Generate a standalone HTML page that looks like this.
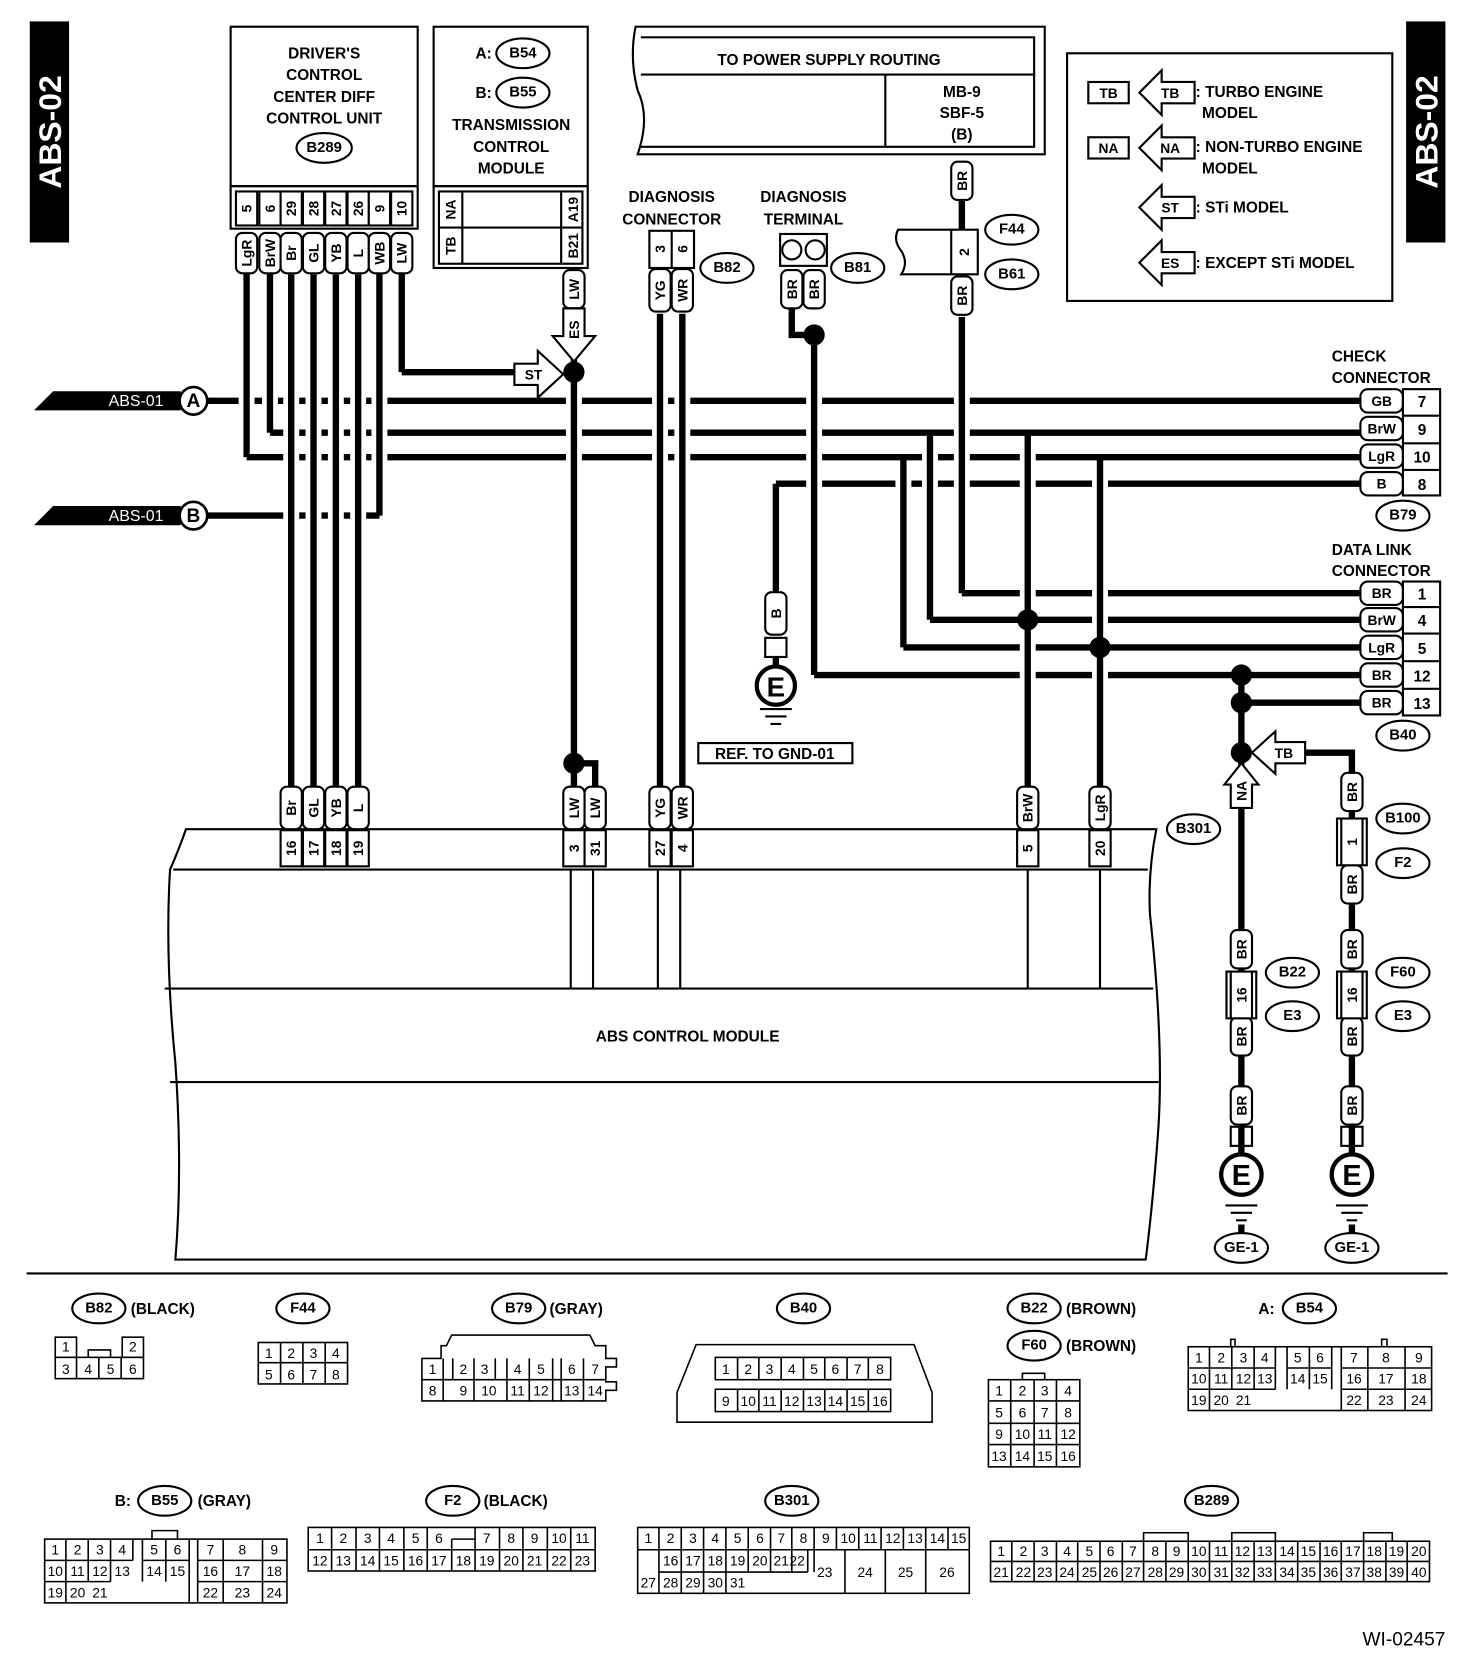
<!DOCTYPE html>
<html><head><meta charset="utf-8"><style>
html,body{margin:0;padding:0;background:#fff}
svg{display:block}
text{font-family:"Liberation Sans",sans-serif;font-weight:bold;fill:#000}
.t rect{fill:#fff;stroke:#000;stroke-width:2}
.t text{font-size:13px;text-anchor:middle;dominant-baseline:central}
.w{fill:none;stroke:#000;stroke-width:6}
.wb{fill:none;stroke:#fff;stroke-width:15}
.b{fill:none;stroke:#000;stroke-width:2}
.lbl{font-size:14.5px;text-anchor:middle}
.g text{font-size:13px;font-weight:normal;text-anchor:middle;dominant-baseline:central}
.g rect{fill:#fff;stroke:#000;stroke-width:1.5}
.ov ellipse{fill:#fff;stroke:#000;stroke-width:2}
.ov text{font-size:14px;text-anchor:middle;dominant-baseline:central}
</style></head><body>
<svg width="1472" height="1670" viewBox="0 0 1385 1571" xmlns="http://www.w3.org/2000/svg">
<!-- side bars -->
<rect x="28" y="20" width="37" height="208" fill="#000"/>
<text transform="translate(47,124) rotate(-90)" text-anchor="middle" dominant-baseline="central" style="fill:#fff;font-size:30px">ABS-02</text>
<rect x="1323" y="20" width="37" height="208" fill="#000"/>
<text transform="translate(1342,124) rotate(-90)" text-anchor="middle" dominant-baseline="central" style="fill:#fff;font-size:30px">ABS-02</text>

<!-- horizontal wires -->
<path class="w" d="M195 377H1280"/>
<path class="w" d="M254 407H1280"/>
<path class="w" d="M232 430H1280"/>
<path class="w" d="M730 455H1280"/>
<path class="w" d="M195 485H357"/>
<path class="w" d="M378 350H490"/>
<path class="w" d="M905 558H1280"/>
<path class="w" d="M875 583H1280"/>
<path class="w" d="M850 609H1280"/>
<path class="w" d="M766 635H1280"/>
<path class="w" d="M1168 661H1280"/>
<!-- vertical underlays (gaps) -->
<path class="wb" d="M274 262V735M295 262V735M316 262V735M337 262V735M357 262V475M232 262V420M254 262V398M540 362V708M621 300V735M642 300V735M766 325V625M905 305V548M875 415V575M850 438V600M967 415V735M1035 438V735"/>
<!-- verticals -->
<path class="w" d="M232 250V430M254 250V407M357 250V485M378 250V350"/>
<path class="w" d="M274 258V740M295 258V740M316 258V740M337 258V740"/>
<path class="w" d="M540 290V718H560V740M540 718V740"/>
<path class="w" d="M621 295V740M642 295V740"/>
<path class="w" d="M730 455V558"/>
<path class="w" d="M745 290V315H766V635"/>
<path class="w" d="M905 188V216M905 298V558"/>
<path class="w" d="M875 407V583M850 430V609"/>
<path class="w" d="M967 407V740M1035 430V740"/>
<path class="w" d="M1168 635V1085M1228 708H1272V1085"/>
<!-- junctions -->
<g fill="#000"><circle cx="540" cy="350" r="10"/><circle cx="540" cy="718" r="10"/><circle cx="766" cy="315" r="10"/><circle cx="967" cy="583" r="10"/><circle cx="1035" cy="609" r="10"/><circle cx="1168" cy="635" r="10"/><circle cx="1168" cy="661" r="10"/><circle cx="1168" cy="708" r="10"/></g>

<!-- ABS-01 flags -->
<path d="M32 386L50 368H170V386Z" fill="#000"/><text x="128" y="382" style="fill:#fff;font-size:15px;font-weight:normal" text-anchor="middle">ABS-01</text>
<circle cx="182" cy="377" r="13" fill="#fff" stroke="#000" stroke-width="2.5"/><text x="182" y="383" text-anchor="middle" style="font-size:18px">A</text>
<path d="M32 494L50 476H170V494Z" fill="#000"/><text x="128" y="490" style="fill:#fff;font-size:15px;font-weight:normal" text-anchor="middle">ABS-01</text>
<circle cx="182" cy="485" r="13" fill="#fff" stroke="#000" stroke-width="2.5"/><text x="182" y="491" text-anchor="middle" style="font-size:18px">B</text>

<!-- Driver's control box -->
<rect class="b" x="217" y="25" width="176" height="150" fill="#fff"/>
<rect class="b" x="217" y="175" width="176" height="40" fill="#fff"/>
<text class="lbl" x="305" y="55">DRIVER'S</text><text class="lbl" x="305" y="75">CONTROL</text><text class="lbl" x="305" y="96">CENTER DIFF</text><text class="lbl" x="305" y="116">CONTROL UNIT</text>
<g class="ov"><ellipse cx="305" cy="139" rx="26" ry="14"/><text x="305" y="139">B289</text></g>
<g class="t">
<g transform="translate(232,196)"><rect x="-10" y="-16" width="20" height="32" rx="0"/><text transform="rotate(-90)">5</text></g>
<g transform="translate(254,196)"><rect x="-10" y="-16" width="20" height="32" rx="0"/><text transform="rotate(-90)">6</text></g>
<g transform="translate(274,196)"><rect x="-10" y="-16" width="20" height="32" rx="0"/><text transform="rotate(-90)">29</text></g>
<g transform="translate(295,196)"><rect x="-10" y="-16" width="20" height="32" rx="0"/><text transform="rotate(-90)">28</text></g>
<g transform="translate(316,196)"><rect x="-10" y="-16" width="20" height="32" rx="0"/><text transform="rotate(-90)">27</text></g>
<g transform="translate(337,196)"><rect x="-10" y="-16" width="20" height="32" rx="0"/><text transform="rotate(-90)">26</text></g>
<g transform="translate(357,196)"><rect x="-10" y="-16" width="20" height="32" rx="0"/><text transform="rotate(-90)">9</text></g>
<g transform="translate(378,196)"><rect x="-10" y="-16" width="20" height="32" rx="0"/><text transform="rotate(-90)">10</text></g>
<g transform="translate(232,238)"><rect x="-10" y="-19" width="20" height="38" rx="6"/><text transform="rotate(-90)">LgR</text></g>
<g transform="translate(254,238)"><rect x="-10" y="-19" width="20" height="38" rx="6"/><text transform="rotate(-90)">BrW</text></g>
<g transform="translate(274,238)"><rect x="-10" y="-19" width="20" height="38" rx="6"/><text transform="rotate(-90)">Br</text></g>
<g transform="translate(295,238)"><rect x="-10" y="-19" width="20" height="38" rx="6"/><text transform="rotate(-90)">GL</text></g>
<g transform="translate(316,238)"><rect x="-10" y="-19" width="20" height="38" rx="6"/><text transform="rotate(-90)">YB</text></g>
<g transform="translate(337,238)"><rect x="-10" y="-19" width="20" height="38" rx="6"/><text transform="rotate(-90)">L</text></g>
<g transform="translate(357,238)"><rect x="-10" y="-19" width="20" height="38" rx="6"/><text transform="rotate(-90)">WB</text></g>
<g transform="translate(378,238)"><rect x="-10" y="-19" width="20" height="38" rx="6"/><text transform="rotate(-90)">LW</text></g>
</g>

<!-- TCM box -->
<rect class="b" x="408" y="25" width="145" height="150" fill="#fff"/>
<rect class="b" x="408" y="175" width="145" height="77" fill="#fff"/>
<rect class="b" x="413" y="180" width="135" height="68"/>
<path class="b" d="M435 180V248M528 180V248M413 214H548"/>
<text transform="translate(424,197) rotate(-90)" text-anchor="middle" dominant-baseline="central" style="font-size:13px">NA</text>
<text transform="translate(424,231) rotate(-90)" text-anchor="middle" dominant-baseline="central" style="font-size:13px">TB</text>
<text transform="translate(539,197) rotate(-90)" text-anchor="middle" dominant-baseline="central" style="font-size:13px">A19</text>
<text transform="translate(539,231) rotate(-90)" text-anchor="middle" dominant-baseline="central" style="font-size:13px">B21</text>
<text class="lbl" x="455" y="55">A:</text><g class="ov"><ellipse cx="492" cy="50" rx="25" ry="14"/><text x="492" y="50">B54</text></g>
<text class="lbl" x="455" y="92">B:</text><g class="ov"><ellipse cx="492" cy="87" rx="25" ry="14"/><text x="492" y="87">B55</text></g>
<text class="lbl" x="481" y="122">TRANSMISSION</text><text class="lbl" x="481" y="143">CONTROL</text><text class="lbl" x="481" y="163">MODULE</text>
<g class="t"><g transform="translate(540,272)"><rect x="-10" y="-18" width="20" height="36" rx="6"/><text transform="rotate(-90)">LW</text></g></g>
<path d="M530 290H550V316H560L540 340L520 316H530Z" fill="#fff" stroke="#000" stroke-width="2"/>
<text transform="translate(540,310) rotate(-90)" text-anchor="middle" dominant-baseline="central" style="font-size:13px">ES</text>
<path d="M484 342H506V330L530 352L506 374V362H484Z" fill="#fff" stroke="#000" stroke-width="2"/>
<text x="502" y="357" text-anchor="middle" style="font-size:13px">ST</text>

<!-- Power supply -->
<path class="b" d="M598 25H983V145H600Q612 110 600 85Q592 55 598 25Z" fill="#fff"/>
<path class="b" d="M603 35H973V138H603M603 70H973M833 70V138"/>
<text class="lbl" x="780" y="61">TO POWER SUPPLY ROUTING</text>
<text class="lbl" x="905" y="91">MB-9</text><text class="lbl" x="905" y="111">SBF-5</text><text class="lbl" x="905" y="131">(B)</text>
<g class="t"><g transform="translate(905,170)"><rect x="-10" y="-18" width="20" height="36" rx="6"/><text transform="rotate(-90)">BR</text></g>
<g transform="translate(905,278)"><rect x="-10" y="-18" width="20" height="36" rx="6"/><text transform="rotate(-90)">BR</text></g></g>
<path class="b" d="M845 216H920V258H848Q855 247 848 236Q840 226 845 216Z" fill="#fff"/>
<path class="b" d="M895 216V258"/>
<text transform="translate(907,237) rotate(-90)" text-anchor="middle" dominant-baseline="central" style="font-size:13px">2</text>
<g class="ov"><ellipse cx="952" cy="216" rx="25" ry="14"/><text x="952" y="216">F44</text><ellipse cx="952" cy="258" rx="25" ry="14"/><text x="952" y="258">B61</text></g>

<!-- Diagnosis connector -->
<text class="lbl" x="632" y="190">DIAGNOSIS</text><text class="lbl" x="632" y="211">CONNECTOR</text>
<rect class="b" x="611" y="217" width="42" height="35" fill="#fff"/><path class="b" d="M632 217V252"/>
<text transform="translate(621,234) rotate(-90)" text-anchor="middle" dominant-baseline="central" style="font-size:13px">3</text>
<text transform="translate(642,234) rotate(-90)" text-anchor="middle" dominant-baseline="central" style="font-size:13px">6</text>
<g class="t"><g transform="translate(621,273)"><rect x="-10" y="-20" width="20" height="40" rx="6"/><text transform="rotate(-90)">YG</text></g>
<g transform="translate(642,273)"><rect x="-10" y="-20" width="20" height="40" rx="6"/><text transform="rotate(-90)">WR</text></g></g>
<g class="ov"><ellipse cx="684" cy="252" rx="25" ry="14"/><text x="684" y="252">B82</text></g>

<!-- Diagnosis terminal -->
<text class="lbl" x="756" y="190">DIAGNOSIS</text><text class="lbl" x="756" y="211">TERMINAL</text>
<rect class="b" x="734" y="220" width="44" height="30" fill="#fff"/>
<circle cx="745" cy="235" r="9" fill="#fff" stroke="#000" stroke-width="2"/><circle cx="767" cy="235" r="9" fill="#fff" stroke="#000" stroke-width="2"/>
<g class="t"><g transform="translate(745,272)"><rect x="-10" y="-18" width="20" height="36" rx="6"/><text transform="rotate(-90)">BR</text></g>
<g transform="translate(766,272)"><rect x="-10" y="-18" width="20" height="36" rx="6"/><text transform="rotate(-90)">BR</text></g></g>
<g class="ov"><ellipse cx="807" cy="252" rx="25" ry="14"/><text x="807" y="252">B81</text></g>

<!-- Legend -->
<rect class="b" x="1004" y="50" width="306" height="233" fill="#fff"/>
<rect class="b" x="1024" y="77" width="38" height="20"/><text x="1043" y="92" text-anchor="middle" style="font-size:13px">TB</text>
<rect class="b" x="1024" y="129" width="38" height="20"/><text x="1043" y="144" text-anchor="middle" style="font-size:13px">NA</text>
<g fill="#fff" stroke="#000" stroke-width="2">
<path d="M1072 87L1093 66V77H1124V97H1093V108Z"/><path d="M1072 139L1093 118V129H1124V149H1093V160Z"/>
<path d="M1072 195L1093 174V185H1124V205H1093V216Z"/><path d="M1072 247L1093 226V237H1124V257H1093V268Z"/></g>
<g style="font-size:13px" text-anchor="middle"><text x="1101" y="92">TB</text><text x="1101" y="144">NA</text><text x="1101" y="200">ST</text><text x="1101" y="252">ES</text></g>
<g class="lbl" style="text-anchor:start"><text x="1125" y="91">: TURBO ENGINE</text><text x="1131" y="111">MODEL</text>
<text x="1125" y="143">: NON-TURBO ENGINE</text><text x="1131" y="163">MODEL</text>
<text x="1125" y="200">: STi MODEL</text><text x="1125" y="252">: EXCEPT STi MODEL</text></g>

<!-- check connector -->
<text class="lbl" x="1253" y="340" style="text-anchor:start">CHECK</text><text class="lbl" x="1253" y="360" style="text-anchor:start">CONNECTOR</text>
<g class="t">
<g transform="translate(1300,377)"><rect x="-20" y="-11" width="40" height="22" rx="7"/><text>GB</text></g>
<g transform="translate(1300,403)"><rect x="-20" y="-11" width="40" height="22" rx="7"/><text>BrW</text></g>
<g transform="translate(1300,429)"><rect x="-20" y="-11" width="40" height="22" rx="7"/><text>LgR</text></g>
<g transform="translate(1300,455)"><rect x="-20" y="-11" width="40" height="22" rx="7"/><text>B</text></g>
<g transform="translate(1300,558)"><rect x="-20" y="-11" width="40" height="22" rx="7"/><text>BR</text></g>
<g transform="translate(1300,583)"><rect x="-20" y="-11" width="40" height="22" rx="7"/><text>BrW</text></g>
<g transform="translate(1300,609)"><rect x="-20" y="-11" width="40" height="22" rx="7"/><text>LgR</text></g>
<g transform="translate(1300,635)"><rect x="-20" y="-11" width="40" height="22" rx="7"/><text>BR</text></g>
<g transform="translate(1300,661)"><rect x="-20" y="-11" width="40" height="22" rx="7"/><text>BR</text></g>
</g>
<rect class="b" x="1320" y="366" width="35" height="100" fill="#fff"/><path class="b" d="M1320 391H1355M1320 417H1355M1320 442H1355"/>
<g class="lbl"><text x="1338" y="383">7</text><text x="1338" y="409">9</text><text x="1338" y="435">10</text><text x="1338" y="461">8</text></g>
<g class="ov"><ellipse cx="1320" cy="485" rx="25" ry="14"/><text x="1320" y="485">B79</text></g>
<text class="lbl" x="1253" y="522" style="text-anchor:start">DATA LINK</text><text class="lbl" x="1253" y="542" style="text-anchor:start">CONNECTOR</text>
<rect class="b" x="1320" y="547" width="35" height="126" fill="#fff"/><path class="b" d="M1320 571H1355M1320 596H1355M1320 622H1355M1320 648H1355"/>
<g class="lbl"><text x="1338" y="564">1</text><text x="1338" y="589">4</text><text x="1338" y="615">5</text><text x="1338" y="641">12</text><text x="1338" y="667">13</text></g>
<g class="ov"><ellipse cx="1320" cy="692" rx="25" ry="14"/><text x="1320" y="692">B40</text></g>

<!-- ground left -->
<g class="t"><g transform="translate(730,577)"><rect x="-10" y="-20" width="20" height="40" rx="6"/><text transform="rotate(-90)">B</text></g></g>
<rect class="b" x="720" y="600" width="20" height="18" fill="#fff"/><path class="w" d="M730 618V628"/>
<circle cx="730" cy="645" r="18" fill="#fff" stroke="#000" stroke-width="4"/><text x="730" y="655" text-anchor="middle" style="font-size:26px">E</text>
<path class="b" d="M715 667H745M720 674H740M725 681H735"/>
<rect class="b" x="657" y="699" width="145" height="19" fill="#fff"/><text class="lbl" x="729" y="714">REF. TO GND-01</text>

<!-- NA / TB arrows -->
<path d="M1158 760V738H1152L1168 718L1184 738H1178V760Z" fill="#fff" stroke="#000" stroke-width="2"/>
<text transform="translate(1168,744) rotate(-90)" text-anchor="middle" dominant-baseline="central" style="font-size:13px">NA</text>
<path d="M1178 708L1200 688V698H1228V718H1200V728Z" fill="#fff" stroke="#000" stroke-width="2"/>
<text x="1208" y="713" text-anchor="middle" style="font-size:13px">TB</text>
<g class="ov"><ellipse cx="1123" cy="780" rx="25" ry="14"/><text x="1123" y="780">B301</text></g>

<!-- right ground chains -->
<g class="t">
<g transform="translate(1272,745)"><rect x="-10" y="-18" width="20" height="36" rx="6"/><text transform="rotate(-90)">BR</text></g>
<g transform="translate(1272,832)"><rect x="-10" y="-18" width="20" height="36" rx="6"/><text transform="rotate(-90)">BR</text></g>
<g transform="translate(1168,893)"><rect x="-10" y="-18" width="20" height="36" rx="6"/><text transform="rotate(-90)">BR</text></g>
<g transform="translate(1168,975)"><rect x="-10" y="-18" width="20" height="36" rx="6"/><text transform="rotate(-90)">BR</text></g>
<g transform="translate(1272,893)"><rect x="-10" y="-18" width="20" height="36" rx="6"/><text transform="rotate(-90)">BR</text></g>
<g transform="translate(1272,975)"><rect x="-10" y="-18" width="20" height="36" rx="6"/><text transform="rotate(-90)">BR</text></g>
<g transform="translate(1168,1040)"><rect x="-10" y="-18" width="20" height="36" rx="6"/><text transform="rotate(-90)">BR</text></g>
<g transform="translate(1272,1040)"><rect x="-10" y="-18" width="20" height="36" rx="6"/><text transform="rotate(-90)">BR</text></g>
</g>
<g fill="#fff" stroke="#000" stroke-width="2">
<rect x="1258" y="770" width="28" height="44"/><rect x="1154" y="914" width="28" height="44"/><rect x="1258" y="914" width="28" height="44"/></g>
<path d="M1262 770V814M1282 770V814M1158 914V958M1178 914V958M1262 914V958M1282 914V958" stroke="#000" stroke-width="2"/>
<g style="font-size:13px" text-anchor="middle" dominant-baseline="central">
<text transform="translate(1272,792) rotate(-90)">1</text><text transform="translate(1168,936) rotate(-90)">16</text><text transform="translate(1272,936) rotate(-90)">16</text></g>
<g class="ov"><ellipse cx="1320" cy="770" rx="25" ry="14"/><text x="1320" y="770">B100</text><ellipse cx="1320" cy="812" rx="25" ry="14"/><text x="1320" y="812">F2</text>
<ellipse cx="1216" cy="915" rx="25" ry="14"/><text x="1216" y="915">B22</text><ellipse cx="1216" cy="956" rx="25" ry="14"/><text x="1216" y="956">E3</text>
<ellipse cx="1320" cy="915" rx="25" ry="14"/><text x="1320" y="915">F60</text><ellipse cx="1320" cy="956" rx="25" ry="14"/><text x="1320" y="956">E3</text>
<ellipse cx="1168" cy="1174" rx="25" ry="14"/><text x="1168" y="1174">GE-1</text><ellipse cx="1272" cy="1174" rx="25" ry="14"/><text x="1272" y="1174">GE-1</text></g>
<rect class="b" x="1158" y="1060" width="20" height="18" fill="#fff"/><rect class="b" x="1262" y="1060" width="20" height="18" fill="#fff"/>
<circle cx="1168" cy="1105" r="19" fill="#fff" stroke="#000" stroke-width="4"/><text x="1168" y="1115" text-anchor="middle" style="font-size:27px">E</text>
<circle cx="1272" cy="1105" r="19" fill="#fff" stroke="#000" stroke-width="4"/><text x="1272" y="1115" text-anchor="middle" style="font-size:27px">E</text>
<path class="b" d="M1153 1134H1183M1158 1141H1178M1163 1148H1173M1257 1134H1287M1262 1141H1282M1267 1148H1277"/>
<path class="w" d="M1168 1152V1160M1272 1152V1160"/>

<!-- ABS module -->
<path class="b" d="M175 780H1088Q1080 820 1082 860Q1095 980 1090 1060Q1085 1130 1078 1185H165Q172 1100 165 1000Q155 900 160 818Q168 800 175 780Z" fill="#fff"/>
<path class="b" d="M163 818H1080M155 930H1085M160 1018H1090"/>
<text class="lbl" x="647" y="980">ABS CONTROL MODULE</text>
<path class="b" d="M537 818V930M558 818V930M619 818V930M640 818V930M967 818V930M1035 818V930"/>
<g class="t">
<g transform="translate(274,760)"><rect x="-10" y="-20" width="20" height="40" rx="6"/><text transform="rotate(-90)">Br</text></g>
<g transform="translate(295,760)"><rect x="-10" y="-20" width="20" height="40" rx="6"/><text transform="rotate(-90)">GL</text></g>
<g transform="translate(316,760)"><rect x="-10" y="-20" width="20" height="40" rx="6"/><text transform="rotate(-90)">YB</text></g>
<g transform="translate(337,760)"><rect x="-10" y="-20" width="20" height="40" rx="6"/><text transform="rotate(-90)">L</text></g>
<g transform="translate(540,760)"><rect x="-10" y="-20" width="20" height="40" rx="6"/><text transform="rotate(-90)">LW</text></g>
<g transform="translate(560,760)"><rect x="-10" y="-20" width="20" height="40" rx="6"/><text transform="rotate(-90)">LW</text></g>
<g transform="translate(621,760)"><rect x="-10" y="-20" width="20" height="40" rx="6"/><text transform="rotate(-90)">YG</text></g>
<g transform="translate(642,760)"><rect x="-10" y="-20" width="20" height="40" rx="6"/><text transform="rotate(-90)">WR</text></g>
<g transform="translate(967,760)"><rect x="-10" y="-20" width="20" height="40" rx="6"/><text transform="rotate(-90)">BrW</text></g>
<g transform="translate(1035,760)"><rect x="-10" y="-20" width="20" height="40" rx="6"/><text transform="rotate(-90)">LgR</text></g>
<g transform="translate(274,798)"><rect x="-10" y="-17" width="20" height="34" rx="0"/><text transform="rotate(-90)">16</text></g>
<g transform="translate(295,798)"><rect x="-10" y="-17" width="20" height="34" rx="0"/><text transform="rotate(-90)">17</text></g>
<g transform="translate(316,798)"><rect x="-10" y="-17" width="20" height="34" rx="0"/><text transform="rotate(-90)">18</text></g>
<g transform="translate(337,798)"><rect x="-10" y="-17" width="20" height="34" rx="0"/><text transform="rotate(-90)">19</text></g>
<g transform="translate(540,798)"><rect x="-10" y="-17" width="20" height="34" rx="0"/><text transform="rotate(-90)">3</text></g>
<g transform="translate(560,798)"><rect x="-10" y="-17" width="20" height="34" rx="0"/><text transform="rotate(-90)">31</text></g>
<g transform="translate(621,798)"><rect x="-10" y="-17" width="20" height="34" rx="0"/><text transform="rotate(-90)">27</text></g>
<g transform="translate(642,798)"><rect x="-10" y="-17" width="20" height="34" rx="0"/><text transform="rotate(-90)">4</text></g>
<g transform="translate(967,798)"><rect x="-10" y="-17" width="20" height="34" rx="0"/><text transform="rotate(-90)">5</text></g>
<g transform="translate(1035,798)"><rect x="-10" y="-17" width="20" height="34" rx="0"/><text transform="rotate(-90)">20</text></g>
</g>

<path d="M25 1198H1362" stroke="#000" stroke-width="2"/>

<!-- bottom connector headers -->
<g class="ov">
<ellipse cx="93" cy="1231" rx="25" ry="14"/><text x="93" y="1231">B82</text>
<ellipse cx="285" cy="1231" rx="25" ry="14"/><text x="285" y="1231">F44</text>
<ellipse cx="488" cy="1231" rx="25" ry="14"/><text x="488" y="1231">B79</text>
<ellipse cx="756" cy="1231" rx="25" ry="14"/><text x="756" y="1231">B40</text>
<ellipse cx="973" cy="1231" rx="25" ry="14"/><text x="973" y="1231">B22</text>
<ellipse cx="973" cy="1266" rx="25" ry="14"/><text x="973" y="1266">F60</text>
<ellipse cx="1232" cy="1231" rx="25" ry="14"/><text x="1232" y="1231">B54</text>
<ellipse cx="155" cy="1412" rx="25" ry="14"/><text x="155" y="1412">B55</text>
<ellipse cx="426" cy="1412" rx="25" ry="14"/><text x="426" y="1412">F2</text>
<ellipse cx="745" cy="1412" rx="25" ry="14"/><text x="745" y="1412">B301</text>
<ellipse cx="1140" cy="1412" rx="25" ry="14"/><text x="1140" y="1412">B289</text>
</g>
<g class="lbl" style="text-anchor:start">
<text x="123" y="1236">(BLACK)</text><text x="517" y="1236">(GRAY)</text><text x="1003" y="1236">(BROWN)</text><text x="1003" y="1271">(BROWN)</text>
<text x="1184" y="1236">A:</text><text x="108" y="1417">B:</text><text x="186" y="1417">(GRAY)</text><text x="455" y="1417">(BLACK)</text></g>
<text x="1360" y="1548" text-anchor="end" style="font-size:18px;font-weight:normal">WI-02457</text>

<g class="g">
<!-- B82 -->
<rect x="52" y="1258" width="20" height="19"/><rect x="115" y="1258" width="20" height="19"/>
<rect x="52" y="1277" width="83" height="20"/><path d="M72 1277V1297M93 1277V1297M114 1277V1297M83 1277V1270H104V1277" stroke="#000" fill="none" stroke-width="1.5"/>
<text x="62" y="1267">1</text><text x="125" y="1267">2</text><text x="62" y="1288">3</text><text x="83" y="1288">4</text><text x="104" y="1288">5</text><text x="125" y="1288">6</text>
<!-- F44 -->
<rect x="243" y="1263" width="84" height="39"/><path d="M243 1282H327M264 1263V1302M285 1263V1302M306 1263V1302" stroke="#000" stroke-width="1.5"/>
<text x="253" y="1273">1</text><text x="274" y="1273">2</text><text x="295" y="1273">3</text><text x="316" y="1273">4</text><text x="253" y="1293">5</text><text x="274" y="1293">6</text><text x="295" y="1293">7</text><text x="316" y="1293">8</text>
<!-- B79 -->
<path d="M397 1278H415V1266H420L425 1256H555L560 1266H570V1278H580V1286H570V1300H580V1308H570V1318H397Z" fill="#fff" stroke="#000" stroke-width="1.5"/>
<path d="M397 1298H570M417 1278V1318M426 1278V1298M446 1278V1318M466 1278V1298M477 1278V1318M498 1278V1318M520 1278V1318M528 1278V1318M549 1278V1318" stroke="#000" stroke-width="1.5"/>
<text x="407" y="1288">1</text><text x="436" y="1288">2</text><text x="456" y="1288">3</text><text x="487" y="1288">4</text><text x="509" y="1288">5</text><text x="538" y="1288">6</text><text x="560" y="1288">7</text>
<text x="407" y="1308">8</text><text x="436" y="1308">9</text><text x="460" y="1308">10</text><text x="487" y="1308">11</text><text x="509" y="1308">12</text><text x="538" y="1308">13</text><text x="560" y="1308">14</text>
<!-- B40 -->
<path d="M655 1265H860L877 1310V1338H637V1310Z" fill="#fff" stroke="#000" stroke-width="1.5"/>
<rect x="673" y="1277" width="165" height="21"/><rect x="673" y="1307" width="165" height="21"/>
<path d="M694 1277V1298M714 1277V1298M735 1277V1298M756 1277V1298M776 1277V1298M797 1277V1298M817 1277V1298M694 1307V1328M714 1307V1328M735 1307V1328M756 1307V1328M776 1307V1328M797 1307V1328M817 1307V1328" stroke="#000" stroke-width="1.5"/>
<text x="683" y="1288">1</text><text x="704" y="1288">2</text><text x="724" y="1288">3</text><text x="745" y="1288">4</text><text x="766" y="1288">5</text><text x="786" y="1288">6</text><text x="807" y="1288">7</text><text x="828" y="1288">8</text>
<text x="683" y="1318">9</text><text x="704" y="1318">10</text><text x="724" y="1318">11</text><text x="745" y="1318">12</text><text x="766" y="1318">13</text><text x="786" y="1318">14</text><text x="807" y="1318">15</text><text x="828" y="1318">16</text>
<!-- B22/F60 -->
<rect x="930" y="1298" width="86" height="82"/>
<path d="M930 1318H1016M930 1339H1016M930 1359H1016M951 1298V1380M973 1298V1380M994 1298V1380M962 1298V1292H983V1298" stroke="#000" fill="none" stroke-width="1.5"/>
<text x="940" y="1308">1</text><text x="962" y="1308">2</text><text x="983" y="1308">3</text><text x="1005" y="1308">4</text>
<text x="940" y="1329">5</text><text x="962" y="1329">6</text><text x="983" y="1329">7</text><text x="1005" y="1329">8</text>
<text x="940" y="1349">9</text><text x="962" y="1349">10</text><text x="983" y="1349">11</text><text x="1005" y="1349">12</text>
<text x="940" y="1370">13</text><text x="962" y="1370">14</text><text x="983" y="1370">15</text><text x="1005" y="1370">16</text>
<!-- B54 -->
<rect x="1118" y="1267" width="229" height="60"/>
<path d="M1118 1287H1200M1211 1287H1253M1262 1287H1347M1118 1307H1200M1262 1307H1347M1138 1267V1327M1159 1267V1307M1180 1267V1307M1200 1267V1307M1211 1267V1307M1232 1267V1307M1253 1267V1307M1262 1267V1327M1287 1267V1327M1322 1267V1327M1158 1267V1260H1162V1267M1300 1267V1260H1305V1267" stroke="#000" fill="none" stroke-width="1.5"/>
<text x="1128" y="1277">1</text><text x="1149" y="1277">2</text><text x="1170" y="1277">3</text><text x="1190" y="1277">4</text><text x="1221" y="1277">5</text><text x="1242" y="1277">6</text><text x="1274" y="1277">7</text><text x="1304" y="1277">8</text><text x="1335" y="1277">9</text>
<text x="1128" y="1297">10</text><text x="1149" y="1297">11</text><text x="1170" y="1297">12</text><text x="1190" y="1297">13</text><text x="1221" y="1297">14</text><text x="1242" y="1297">15</text><text x="1274" y="1297">16</text><text x="1304" y="1297">17</text><text x="1335" y="1297">18</text>
<text x="1128" y="1317">19</text><text x="1149" y="1317">20</text><text x="1170" y="1317">21</text><text x="1274" y="1317">22</text><text x="1304" y="1317">23</text><text x="1335" y="1317">24</text>
<!-- B55 -->
<rect x="42" y="1448" width="228" height="60"/>
<path d="M42 1468H125M134 1468H178M186 1468H270M42 1488H104M186 1488H270M62 1448V1508M83 1448V1488M104 1448V1488M125 1448V1468M134 1448V1488M156 1448V1488M178 1448V1508M186 1448V1508M210 1448V1508M247 1448V1508M143 1448V1440H167V1448" stroke="#000" fill="none" stroke-width="1.5"/>
<text x="52" y="1458">1</text><text x="73" y="1458">2</text><text x="94" y="1458">3</text><text x="115" y="1458">4</text><text x="145" y="1458">5</text><text x="167" y="1458">6</text><text x="198" y="1458">7</text><text x="228" y="1458">8</text><text x="258" y="1458">9</text>
<text x="52" y="1478">10</text><text x="73" y="1478">11</text><text x="94" y="1478">12</text><text x="115" y="1478">13</text><text x="145" y="1478">14</text><text x="167" y="1478">15</text><text x="198" y="1478">16</text><text x="228" y="1478">17</text><text x="258" y="1478">18</text>
<text x="52" y="1498">19</text><text x="73" y="1498">20</text><text x="94" y="1498">21</text><text x="198" y="1498">22</text><text x="228" y="1498">23</text><text x="258" y="1498">24</text>
<!-- F2 -->
<rect x="290" y="1437" width="270" height="41"/>
<path d="M290 1458H560M312 1437V1478M335 1437V1478M357 1437V1478M380 1437V1478M402 1437V1478M425 1448V1478M447 1437V1478M470 1437V1478M492 1437V1478M515 1437V1478M537 1437V1478M425 1448H447" stroke="#000" fill="none" stroke-width="1.5"/>
<text x="301" y="1447">1</text><text x="323" y="1447">2</text><text x="346" y="1447">3</text><text x="368" y="1447">4</text><text x="391" y="1447">5</text><text x="413" y="1447">6</text><text x="458" y="1447">7</text><text x="481" y="1447">8</text><text x="503" y="1447">9</text><text x="526" y="1447">10</text><text x="548" y="1447">11</text>
<text x="301" y="1468">12</text><text x="323" y="1468">13</text><text x="346" y="1468">14</text><text x="368" y="1468">15</text><text x="391" y="1468">16</text><text x="413" y="1468">17</text><text x="436" y="1468">18</text><text x="458" y="1468">19</text><text x="481" y="1468">20</text><text x="503" y="1468">21</text><text x="526" y="1468">22</text><text x="548" y="1468">23</text>
<!-- B301 -->
<rect x="600" y="1437" width="312" height="62"/>
<path d="M600 1458H912M620 1479H760M620 1437V1499M641 1437V1499M662 1437V1499M683 1437V1499M704 1437V1479M725 1437V1479M745 1437V1479M766 1437V1479M787 1437V1458M808 1437V1458M829 1437V1458M850 1437V1458M871 1437V1458M892 1437V1458M795 1458V1499M833 1458V1499M871 1458V1499M760 1479V1458" stroke="#000" fill="none" stroke-width="1.5"/>
<text x="610" y="1447">1</text><text x="631" y="1447">2</text><text x="652" y="1447">3</text><text x="673" y="1447">4</text><text x="694" y="1447">5</text><text x="715" y="1447">6</text><text x="735" y="1447">7</text><text x="756" y="1447">8</text><text x="777" y="1447">9</text><text x="798" y="1447">10</text><text x="819" y="1447">11</text><text x="840" y="1447">12</text><text x="861" y="1447">13</text><text x="882" y="1447">14</text><text x="902" y="1447">15</text>
<text x="631" y="1468">16</text><text x="652" y="1468">17</text><text x="673" y="1468">18</text><text x="694" y="1468">19</text><text x="715" y="1468">20</text><text x="735" y="1468">21</text><text x="750" y="1468">22</text>
<text x="776" y="1479">23</text><text x="814" y="1479">24</text><text x="852" y="1479">25</text><text x="891" y="1479">26</text>
<text x="610" y="1489">27</text><text x="631" y="1489">28</text><text x="652" y="1489">29</text><text x="673" y="1489">30</text><text x="694" y="1489">31</text>
<!-- B289 -->
<rect x="932" y="1450" width="413" height="38"/>
<path d="M932 1469H1345M952 1450V1488M973 1450V1488M994 1450V1488M1014 1450V1488M1035 1450V1488M1056 1450V1488M1076 1450V1488M1097 1450V1488M1118 1450V1488M1138 1450V1488M1159 1450V1488M1180 1450V1488M1200 1450V1488M1221 1450V1488M1242 1450V1488M1262 1450V1488M1283 1450V1488M1304 1450V1488M1324 1450V1488M1076 1450V1442H1118V1450M1159 1450V1442H1200V1450M1283 1450V1442H1310V1450" stroke="#000" fill="none" stroke-width="1.5"/>
<text x="942" y="1459">1</text><text x="963" y="1459">2</text><text x="983" y="1459">3</text><text x="1004" y="1459">4</text><text x="1025" y="1459">5</text><text x="1045" y="1459">6</text><text x="1066" y="1459">7</text><text x="1087" y="1459">8</text><text x="1107" y="1459">9</text><text x="1128" y="1459">10</text><text x="1149" y="1459">11</text><text x="1169" y="1459">12</text><text x="1190" y="1459">13</text><text x="1211" y="1459">14</text><text x="1231" y="1459">15</text><text x="1252" y="1459">16</text><text x="1273" y="1459">17</text><text x="1293" y="1459">18</text><text x="1314" y="1459">19</text><text x="1335" y="1459">20</text>
<text x="942" y="1479">21</text><text x="963" y="1479">22</text><text x="983" y="1479">23</text><text x="1004" y="1479">24</text><text x="1025" y="1479">25</text><text x="1045" y="1479">26</text><text x="1066" y="1479">27</text><text x="1087" y="1479">28</text><text x="1107" y="1479">29</text><text x="1128" y="1479">30</text><text x="1149" y="1479">31</text><text x="1169" y="1479">32</text><text x="1190" y="1479">33</text><text x="1211" y="1479">34</text><text x="1231" y="1479">35</text><text x="1252" y="1479">36</text><text x="1273" y="1479">37</text><text x="1293" y="1479">38</text><text x="1314" y="1479">39</text><text x="1335" y="1479">40</text>
</g>
</svg>
</body></html>
